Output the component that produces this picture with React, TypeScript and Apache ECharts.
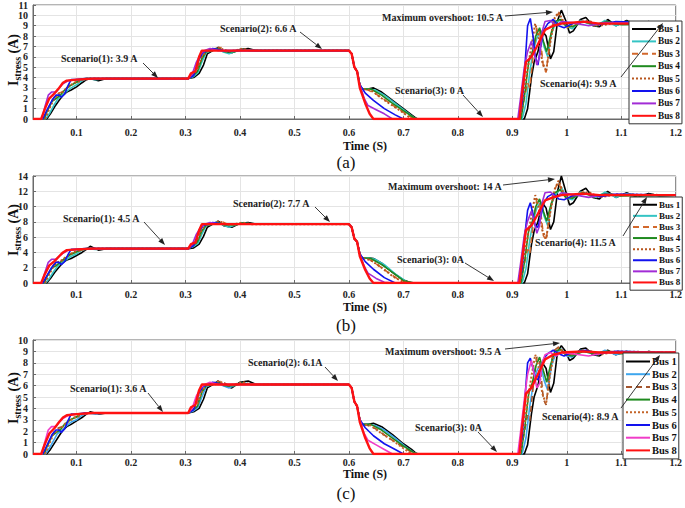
import React, { useEffect, useRef } from 'react';
import * as echarts from 'echarts';

// ---------------- data ----------------
const BUS_NAMES = ['Bus 1', 'Bus 2', 'Bus 3', 'Bus 4', 'Bus 5', 'Bus 6', 'Bus 7', 'Bus 8'];
const X_TICKS = [0.1, 0.2, 0.3, 0.4, 0.5, 0.6, 0.7, 0.8, 0.9, 1, 1.1, 1.2];
const PANEL_TAGS = ['(a)', '(b)', '(c)'];
const Y_MAX = [11, 14, 10];
const Y_STEP = [1, 2, 1];

// time samples per bus (s)
const T1 = [0.02,0.045,0.052,0.06,0.068,0.075,0.082,0.09,0.1,0.11,0.118,0.125,0.14,0.155,0.305,0.315,0.325,0.333,0.34,0.35,0.36,0.37,0.385,0.4,0.415,0.43,0.6,0.605,0.61,0.615,0.62,0.624,0.635,0.645,0.66,0.68,0.7,0.715,0.725,0.922,0.928,0.935,0.94,0.947,0.955,0.962,0.97,0.976,0.983,0.99,0.998,1.005,1.012,1.025,1.035,1.048,1.06,1.075,1.09,1.11,1.13,1.15,1.17,1.2];
const T2 = [0.02,0.043,0.05,0.058,0.065,0.072,0.08,0.09,0.1,0.11,0.12,0.135,0.15,0.305,0.315,0.323,0.33,0.338,0.348,0.358,0.368,0.38,0.395,0.41,0.425,0.6,0.605,0.61,0.615,0.62,0.624,0.635,0.648,0.665,0.685,0.705,0.72,0.728,0.918,0.925,0.932,0.938,0.945,0.952,0.958,0.965,0.972,0.98,0.99,1.0,1.01,1.025,1.04,1.055,1.07,1.09,1.11,1.14,1.2];
const T3 = [0.02,0.04,0.047,0.053,0.06,0.067,0.075,0.085,0.095,0.105,0.115,0.305,0.313,0.32,0.328,0.335,0.345,0.355,0.365,0.38,0.4,0.42,0.6,0.605,0.61,0.615,0.62,0.624,0.635,0.65,0.67,0.69,0.71,0.72,0.915,0.922,0.928,0.932,0.938,0.945,0.95,0.957,0.962,0.968,0.975,0.985,0.993,1.0,1.015,1.03,1.05,1.07,1.2];
const T4 = [0.02,0.04,0.048,0.055,0.063,0.07,0.078,0.088,0.098,0.108,0.118,0.305,0.314,0.322,0.33,0.338,0.35,0.36,0.372,0.39,0.405,0.42,0.6,0.605,0.61,0.615,0.62,0.624,0.64,0.66,0.68,0.7,0.72,0.728,0.916,0.923,0.93,0.937,0.943,0.95,0.957,0.963,0.97,0.978,0.988,0.998,1.01,1.03,1.05,1.075,1.1,1.2];
const T5 = [0.02,0.042,0.05,0.057,0.065,0.072,0.08,0.09,0.1,0.11,0.12,0.305,0.314,0.322,0.33,0.338,0.35,0.362,0.375,0.39,0.405,0.42,0.6,0.605,0.61,0.615,0.62,0.624,0.64,0.66,0.68,0.7,0.715,0.914,0.92,0.927,0.935,0.942,0.948,0.955,0.962,0.97,0.978,0.985,0.993,1.0,1.02,1.04,1.06,1.09,1.2];
const T6 = [0.02,0.038,0.045,0.055,0.062,0.068,0.072,0.078,0.085,0.09,0.1,0.115,0.305,0.315,0.32,0.325,0.332,0.34,0.35,0.37,0.6,0.605,0.61,0.615,0.62,0.63,0.645,0.665,0.685,0.7,0.912,0.918,0.923,0.928,0.933,0.938,0.942,0.947,0.952,0.958,0.965,0.975,0.985,0.995,1.01,1.035,1.06,1.09,1.2];
const T7 = [0.02,0.036,0.042,0.048,0.054,0.062,0.068,0.075,0.085,0.1,0.13,0.305,0.312,0.32,0.328,0.335,0.345,0.36,0.6,0.605,0.61,0.615,0.62,0.628,0.635,0.65,0.665,0.68,0.91,0.915,0.922,0.928,0.935,0.94,0.945,0.95,0.955,0.96,0.97,0.98,0.99,1.01,1.04,1.07,1.2];
const T8 = [0.02,0.035,0.042,0.05,0.06,0.068,0.075,0.082,0.1,0.13,0.305,0.31,0.318,0.325,0.33,0.6,0.605,0.61,0.615,0.62,0.63,0.638,0.645,0.913,0.918,0.925,0.935,0.945,0.96,0.975,0.99,1.03,1.06,1.2];

// panel (a) currents (A)
const A1 = [0,0,0.5,1.2,1.8,2.3,2.6,2.8,3.1,3.5,3.8,3.9,3.7,3.9,3.9,4.0,4.4,5.2,6.3,6.6,6.9,6.5,6.4,6.7,6.8,6.6,6.6,6.3,5.0,4.6,3.3,2.9,2.9,3.0,2.6,1.8,1.0,0.4,0,0,1.0,4.0,5.5,6.5,8.5,8.0,5.8,6.5,9.5,10.5,9.5,8.3,8.5,9.6,9.8,9.0,8.9,9.6,9.0,9.5,9.0,9.4,9.1,9.2];
const A2 = [0,0,0.5,1.3,1.9,2.2,2.6,3.0,3.3,3.7,3.9,3.8,3.9,3.9,4.1,4.5,5.5,6.4,6.6,6.8,6.5,6.3,6.6,6.7,6.6,6.6,6.3,5.0,4.6,3.3,2.9,2.9,2.8,2.3,1.5,0.7,0.1,0,0,1.5,4.5,6.5,7.8,8.5,7.0,6.0,8.3,9.3,9.6,8.9,8.7,9.5,9.2,9.0,9.5,9.0,9.4,9.1,9.2];
const A3 = [0,0,0.8,1.6,2.2,2.5,2.6,3.2,3.5,3.6,3.9,3.9,4.2,4.5,5.8,6.4,6.7,6.6,6.9,6.5,6.7,6.6,6.6,6.3,5.0,4.6,3.3,2.9,2.8,2.4,1.7,1.0,0.3,0,0,2.0,3.5,3.0,6.0,8.8,8.5,5.0,4.5,7.0,9.5,10.2,9.3,8.8,9.1,9.5,9.0,9.3,9.2];
const A4 = [0,0,1.0,1.7,2.0,2.3,2.8,3.2,3.5,3.8,3.9,3.9,4.2,4.6,5.8,6.5,6.6,6.8,6.5,6.5,6.7,6.6,6.6,6.3,5.0,4.6,3.3,2.9,2.9,2.3,1.5,0.8,0.1,0,0,2.5,5.5,6.5,8.0,8.8,7.5,6.5,8.0,9.4,9.6,9.0,8.9,9.4,9.1,9.4,9.1,9.2];
const A5 = [0,0,1.0,1.8,2.3,2.5,2.9,3.3,3.6,3.8,3.9,3.9,4.3,4.8,6.0,6.5,6.7,6.9,6.5,6.6,6.8,6.6,6.6,6.3,5.0,4.6,3.3,2.9,2.8,2.0,1.3,0.6,0,0,2.0,4.5,7.0,9.2,8.0,5.5,4.6,7.5,9.8,10.3,9.5,9.0,9.2,9.5,9.0,9.3,9.2];
const A6 = [0,0,0.8,1.8,2.3,2.3,2.1,2.4,3.3,3.8,3.8,3.9,3.9,4.2,5.0,5.8,6.4,6.6,6.8,6.6,6.6,6.3,5.0,4.6,3.3,2.5,1.8,1.0,0.4,0,0,1.5,5.0,9.0,9.7,8.0,6.0,5.2,7.0,8.6,9.2,9.6,9.0,8.8,9.2,9.4,9.1,9.4,9.2];
const A7 = [0,0,1.2,2.3,2.6,2.6,3.0,3.4,3.7,3.8,3.9,3.9,4.3,5.5,6.3,6.6,6.8,6.6,6.6,6.3,5.0,4.6,3.3,2.0,1.3,0.9,0.5,0,0,2.0,5.0,6.5,7.5,6.5,5.2,6.0,8.5,9.4,9.5,9.0,9.4,9.3,9.0,9.3,9.2];
const A8 = [0,0,1.0,2.0,2.5,3.0,3.5,3.7,3.8,3.9,3.9,4.4,4.6,6.0,6.6,6.6,6.3,5.0,4.6,3.0,1.5,0.5,0,0,2.5,5.5,6.0,7.0,8.6,9.0,9.2,9.4,9.2,9.2];

// panel (b) currents (A)
const B1 = [0,0,0.6,1.4,2.1,2.7,3.0,3.2,3.6,4.0,4.4,4.8,4.3,4.5,4.5,4.6,5.1,6.1,7.3,7.7,8.1,7.5,7.3,7.8,7.9,7.7,7.7,7.3,5.8,5.4,3.8,3.3,3.3,3.2,2.6,1.4,0.4,0,0,0,1.2,5.0,6.8,8.0,10.5,9.8,7.0,8.0,12.0,14.0,12.0,10.2,10.5,12.0,12.4,11.2,11.0,12.0,11.2,11.8,11.2,11.7,11.4,11.5];
const B2 = [0,0,0.6,1.5,2.2,2.6,3.0,3.5,3.8,4.3,4.5,4.4,4.5,4.5,4.8,5.2,6.4,7.5,7.7,8.0,7.6,7.3,7.7,7.8,7.7,7.7,7.3,5.8,5.4,3.8,3.3,3.3,3.1,2.4,1.2,0.2,0,0,0,1.9,5.6,8.1,9.8,10.6,8.8,7.5,10.4,11.6,12.5,11.1,10.9,11.9,11.5,11.2,11.9,11.2,11.7,11.4,11.5];
const B3 = [0,0,0.9,1.9,2.6,2.9,3.0,3.7,4.0,4.2,4.5,4.5,4.9,5.2,6.8,7.5,7.8,7.7,8.1,7.6,7.8,7.7,7.7,7.3,5.8,5.4,3.8,3.3,3.2,2.5,1.5,0.5,0,0,0,2.5,4.4,3.8,7.5,11.0,10.6,6.2,5.6,8.7,11.9,13.2,11.6,11.0,11.4,11.9,11.2,11.6,11.5];
const B4 = [0,0,1.2,2.0,2.3,2.7,3.2,3.7,4.0,4.4,4.5,4.5,4.9,5.4,6.8,7.6,7.7,7.9,7.6,7.6,7.8,7.7,7.7,7.3,5.8,5.4,3.8,3.3,3.2,2.4,1.4,0.3,0,0,0,3.1,6.9,8.1,10.0,11.0,9.4,8.1,10.0,11.8,12.2,11.2,11.1,11.8,11.4,11.7,11.4,11.5];
const B5 = [0,0,1.2,2.1,2.7,2.9,3.4,3.8,4.2,4.4,4.5,4.5,5.0,5.6,7.0,7.6,7.8,8.1,7.6,7.7,7.9,7.7,7.7,7.3,5.8,5.4,3.8,3.3,3.0,2.0,0.9,0.1,0,0,2.5,5.6,8.8,11.5,10.0,6.9,5.8,9.4,12.3,13.4,11.9,11.2,11.5,11.9,11.2,11.6,11.5];
const B6 = [0,0,0.9,2.1,2.7,2.7,2.4,2.8,3.8,4.4,4.4,4.5,4.5,4.9,5.8,6.8,7.5,7.7,7.9,7.7,7.7,7.3,5.8,5.4,3.8,2.8,1.8,0.7,0,0,0,1.9,6.3,9.5,10.5,9.0,7.5,7.3,8.7,10.5,11.3,11.7,11.0,10.9,11.4,11.7,11.3,11.6,11.5];
const B7 = [0,0,1.4,2.7,3.1,3.1,3.5,3.9,4.3,4.4,4.5,4.5,5.0,6.4,7.3,7.7,7.9,7.7,7.7,7.3,5.8,5.4,3.8,2.2,1.3,0.6,0.1,0,0,2.5,6.3,8.1,9.4,8.1,6.5,7.5,10.6,11.8,11.9,11.2,11.8,11.6,11.2,11.6,11.5];
const B8 = [0,0,1.2,2.3,2.9,3.5,4.0,4.3,4.4,4.5,4.5,5.1,5.3,6.9,7.7,7.7,7.3,5.8,5.4,3.5,1.7,0.6,0,0,3.1,6.9,7.5,8.8,10.8,11.2,11.5,11.7,11.5,11.5];

// panel (c) currents (A)
const C1 = [0,0,0.4,1.0,1.6,2.1,2.4,2.6,2.9,3.2,3.5,3.7,3.5,3.6,3.6,3.7,4.0,4.8,5.8,6.1,6.4,6.0,5.8,6.3,6.4,6.1,6.1,5.8,4.6,4.2,3.0,2.6,2.6,2.7,2.4,1.7,0.9,0.4,0,0,0.8,3.5,5.0,6.0,8.0,7.5,5.4,6.2,9.0,9.5,9.0,8.2,8.4,9.2,9.3,8.7,8.6,9.1,8.7,9.0,8.7,9.0,8.8,8.9];
const C2 = [0,0,0.5,1.2,1.8,2.0,2.4,2.8,3.0,3.4,3.6,3.5,3.6,3.6,3.8,4.1,5.0,5.9,6.1,6.3,6.0,5.8,6.1,6.2,6.1,6.1,5.8,4.6,4.2,3.0,2.6,2.6,2.5,2.1,1.4,0.6,0.1,0,0,1.4,4.2,6.0,7.3,7.9,6.5,5.6,7.8,8.8,9.2,8.6,8.5,9.1,8.9,8.7,9.1,8.7,9.0,8.8,8.9];
const C3 = [0,0,0.7,1.5,2.0,2.3,2.4,2.9,3.2,3.3,3.6,3.6,3.9,4.1,5.4,5.9,6.2,6.1,6.4,6.0,6.2,6.1,6.1,5.8,4.6,4.2,3.0,2.6,2.5,2.2,1.5,0.9,0.3,0,0,1.9,3.4,2.9,5.8,8.5,8.2,4.8,4.3,6.8,9.0,9.4,9.0,8.6,8.8,9.1,8.8,9.0,8.9];
const C4 = [0,0,0.9,1.6,1.9,2.1,2.6,3.0,3.2,3.5,3.6,3.6,3.9,4.2,5.4,6.0,6.1,6.3,6.0,6.0,6.2,6.1,6.1,5.8,4.6,4.2,3.0,2.6,2.6,2.1,1.4,0.7,0.1,0,0,2.4,5.3,6.3,7.7,8.5,7.3,6.3,7.8,9.0,9.2,8.7,8.6,9.0,8.8,9.0,8.8,8.9];
const C5 = [0,0,0.9,1.7,2.1,2.3,2.7,3.0,3.3,3.5,3.6,3.6,4.0,4.4,5.5,6.0,6.2,6.4,6.0,6.1,6.3,6.1,6.1,5.8,4.6,4.2,3.0,2.6,2.5,1.8,1.2,0.5,0,0,1.9,4.3,6.8,8.7,7.7,5.3,4.4,7.2,9.1,9.3,9.0,8.7,8.9,9.1,8.7,9.0,8.9];
const C6 = [0,0,0.7,1.7,2.1,2.1,1.9,2.2,3.0,3.5,3.5,3.6,3.6,3.9,4.6,5.4,5.9,6.1,6.3,6.1,6.1,5.8,4.6,4.2,3.0,2.3,1.6,0.9,0.4,0,0,1.5,4.8,8.0,8.4,7.5,6.7,6.5,7.5,8.4,8.8,9.1,8.8,8.6,8.9,9.1,8.8,9.0,8.9];
const C7 = [0,0,1.1,2.1,2.4,2.4,2.8,3.1,3.4,3.5,3.6,3.6,4.0,5.1,5.8,6.1,6.3,6.1,6.1,5.8,4.6,4.2,3.0,1.8,1.2,0.8,0.4,0,0,1.9,4.8,7.0,8.2,7.0,5.8,6.2,8.0,8.7,8.9,8.6,8.9,8.8,8.6,8.9,8.9];
const C8 = [0,0,0.9,1.8,2.3,2.8,3.2,3.4,3.5,3.6,3.6,4.1,4.3,5.6,6.1,6.1,5.8,4.6,4.2,2.8,1.4,0.5,0,0,2.4,5.3,5.8,6.8,8.3,8.7,8.9,9.0,8.9,8.9];

const TIMES = [T1, T2, T3, T4, T5, T6, T7, T8];
const PANEL_VALUES = [
  [A1, A2, A3, A4, A5, A6, A7, A8],
  [B1, B2, B3, B4, B5, B6, B7, B8],
  [C1, C2, C3, C4, C5, C6, C7, C8],
];

// annotation texts
const NOTES_A = ['Scenario(1): 3.9 A', 'Scenario(2): 6.6 A', 'Scenario(3): 0 A', 'Maximum overshoot: 10.5 A', 'Scenario(4): 9.9 A'];
const NOTES_B = ['Scenario(1): 4.5 A', 'Scenario(2): 7.7 A', 'Scenario(3): 0A', 'Maximum overshoot: 14 A', 'Scenario(4): 11.5 A'];
const NOTES_C = ['Scenario(1): 3.6 A', 'Scenario(2): 6.1A', 'Scenario(3): 0A', 'Maximum overshoot: 9.5 A', 'Scenario(4): 8.9 A'];

// ---------------- styles / layout ----------------
const FONT = '"Liberation Serif", "Times New Roman", serif';
const COLORS_AB = ['#000000', '#35C4C4', '#D2682C', '#1F8A1F', '#B8561E', '#1212EE', '#A22CD6', '#FF1111'];
const COLORS_C = ['#000000', '#3EA6EE', '#A4552E', '#1F8A1F', '#C46428', '#1212EE', '#F03CC8', '#FF1111'];
const LINE_TYPES: any[] = ['solid', 'solid', [6, 4], 'solid', 'dotted', 'solid', 'solid', 'solid'];
const LINE_WIDTHS = [1.6, 1.6, 1.6, 1.6, 2, 1.6, 1.6, 2.4];

const GRIDS = [
  { left: 33, top: 4, width: 645, height: 115 },
  { left: 33, top: 176, width: 645, height: 107 },
  { left: 33, top: 340, width: 645, height: 114 },
];
const X_LABEL_MARGIN = [8, 6, 3];

const LEGENDS = [
  { left: 629, top: 21, fontSize: 9.3, lineHeight: 10, gap: 2.4 },
  { left: 630, top: 197, fontSize: 9, lineHeight: 9.5, gap: 1.6 },
  { left: 623, top: 353, fontSize: 10.5, lineHeight: 11, gap: 1.7 },
];

// text left x, middle y, arrow x1,y1,x2,y2
const NOTE_POS = [
  [
    [61, 58, 143, 63, 158, 78],
    [220, 28, 300, 32, 322, 49],
    [395, 90, 463, 95, 483, 117],
    [382, 17, 505, 16, 553, 12],
    [540, 83, 621, 77, 663, 23],
  ],
  [
    [63, 218, 144, 222, 165, 245],
    [233, 203, 315, 207, 330, 222],
    [397, 259, 465, 263, 494, 281],
    [388, 186, 503, 185, 555, 179],
    [535, 242, 623, 236, 647, 197],
  ],
  [
    [70, 388, 148, 393, 163, 412],
    [248, 362, 325, 367, 338, 381],
    [415, 427, 478, 432, 497, 452],
    [385, 351, 505, 349, 560, 343],
    [542, 416, 621, 408, 660, 355],
  ],
];
const YNAME_POS = [[13, 60], [13, 230], [13, 398]];
const TIME_POS = [[365, 146], [365, 307], [365, 474]];
const TAG_POS = [[346, 162], [346, 325], [346, 493]];

function arrow(x1: number, y1: number, x2: number, y2: number) {
  const ang = Math.atan2(y2 - y1, x2 - x1);
  const L = 7, W = 2.6;
  const bx = x2 - L * Math.cos(ang);
  const by = y2 - L * Math.sin(ang);
  const nx = -Math.sin(ang) * W;
  const ny = Math.cos(ang) * W;
  return [
    { type: 'line', z: 100, shape: { x1, y1, x2: bx, y2: by }, style: { stroke: '#222', lineWidth: 0.9 } },
    { type: 'polygon', z: 100, shape: { points: [[x2, y2], [bx + nx, by + ny], [bx - nx, by - ny]] }, style: { fill: '#222' } },
  ];
}

function buildOption() {
  const grid = GRIDS.map((g) => ({ ...g, show: true, borderColor: '#6a6a6a', borderWidth: 1, backgroundColor: '#fff' }));
  const xAxis = GRIDS.map((_, p) => ({
    type: 'value',
    gridIndex: p,
    min: 0.02,
    max: 1.2,
    axisLine: { show: true, lineStyle: { color: '#6a6a6a' } },
    axisTick: { show: true, inside: true, length: 3, customValues: X_TICKS, lineStyle: { color: '#6a6a6a' } },
    axisLabel: {
      customValues: X_TICKS,
      fontSize: 10, fontWeight: 'bold', fontFamily: FONT, color: '#222', margin: X_LABEL_MARGIN[p],
      formatter: (v: number) => String(Math.round(v * 10) / 10),
    },
    splitLine: { show: true, lineStyle: { color: '#e4e4e4', width: 1 } },
  }));
  const yAxis = GRIDS.map((_, p) => ({
    type: 'value',
    gridIndex: p,
    min: 0,
    max: Y_MAX[p],
    interval: Y_STEP[p],
    axisLine: { show: true, lineStyle: { color: '#6a6a6a' } },
    axisTick: { show: true, inside: true, length: 3, lineStyle: { color: '#6a6a6a' } },
    axisLabel: { fontSize: 10, fontWeight: 'bold', fontFamily: FONT, color: '#222', margin: 5 },
    splitLine: { show: true, lineStyle: { color: '#e4e4e4', width: 1 } },
  }));

  const series: any[] = [];
  const tags = ['a', 'b', 'c'];
  for (let p = 0; p < 3; p++) {
    const colors = p === 2 ? COLORS_C : COLORS_AB;
    for (let k = 0; k < 8; k++) {
      const t = TIMES[k];
      const v = PANEL_VALUES[p][k];
      const n = Math.min(t.length, v.length);
      const data: number[][] = [];
      for (let i = 0; i < n; i++) data.push([t[i], v[i]]);
      series.push({
        type: 'line',
        name: `${tags[p]} ${BUS_NAMES[k]}`,
        xAxisIndex: p,
        yAxisIndex: p,
        data,
        symbol: 'none',
        showSymbol: false,
        color: colors[k],
        lineStyle: { color: colors[k], width: LINE_WIDTHS[k], type: LINE_TYPES[k] },
        z: 2,
        silent: true,
      });
    }
  }

  const legend = LEGENDS.map((l, p) => ({
    orient: 'vertical',
    left: l.left,
    top: l.top,
    data: BUS_NAMES.map((b) => `${tags[p]} ${b}`),
    formatter: (name: string) => name.slice(2),
    selectedMode: false,
    backgroundColor: '#fff',
    borderColor: '#333',
    borderWidth: 1,
    borderRadius: 0,
    padding: [3, 2, 3, 2],
    itemWidth: 24,
    itemHeight: 8,
    itemGap: l.gap,
    itemStyle: { opacity: 0 },
    lineStyle: { width: 2 },
    textStyle: { fontSize: l.fontSize, lineHeight: l.lineHeight, fontWeight: 'bold', fontFamily: FONT, color: '#111', padding: [0, 0, 0, -3] },
    z: 4,
  }));

  const graphic: any[] = [];
  const noteSets = [NOTES_A, NOTES_B, NOTES_C];
  for (let p = 0; p < 3; p++) {
    noteSets[p].forEach((txt, i) => {
      const [tx, ty, x1, y1, x2, y2] = NOTE_POS[p][i];
      graphic.push({
        type: 'text', x: tx, y: ty, z: 100,
        style: { text: txt, fontSize: 10, fontWeight: 'bold', fontFamily: FONT, fill: '#222', verticalAlign: 'middle', align: 'left' },
      });
      graphic.push(...arrow(x1, y1, x2, y2));
    });
    graphic.push({
      type: 'text', x: YNAME_POS[p][0], y: YNAME_POS[p][1], rotation: Math.PI / 2, z: 100,
      style: {
        text: '{m|I}{s|stress}{m| (A)}',
        align: 'center', verticalAlign: 'middle',
        rich: {
          m: { fontSize: 14, fontWeight: 'bold', fontFamily: FONT, fill: '#111', lineHeight: 18 },
          s: { fontSize: 10, fontWeight: 'bold', fontFamily: FONT, fill: '#111', lineHeight: 10, verticalAlign: 'bottom' },
        },
      },
    });
    graphic.push({
      type: 'text', x: TIME_POS[p][0], y: TIME_POS[p][1], z: 100,
      style: { text: 'Time (S)', fontSize: 12, fontWeight: 'bold', fontFamily: FONT, fill: '#111', align: 'center', verticalAlign: 'middle' },
    });
    graphic.push({
      type: 'text', x: TAG_POS[p][0], y: TAG_POS[p][1], z: 100,
      style: { text: PANEL_TAGS[p], fontSize: 17, fontFamily: FONT, fill: '#111', align: 'center', verticalAlign: 'middle' },
    });
  }

  return {
    animation: false,
    backgroundColor: '#fff',
    textStyle: { fontFamily: FONT },
    grid,
    xAxis,
    yAxis,
    legend,
    series,
    graphic,
  };
}

export default function App() {
  const ref = useRef<HTMLDivElement>(null);
  useEffect(() => {
    if (!ref.current) return;
    const chart = echarts.init(ref.current, undefined, { renderer: 'svg' });
    chart.setOption(buildOption() as any);
    return () => chart.dispose();
  }, []);
  return (
    <div
      ref={ref}
      style={{ position: 'absolute', left: 0, top: 0, width: 685, height: 508, background: '#fff' }}
    />
  );
}
